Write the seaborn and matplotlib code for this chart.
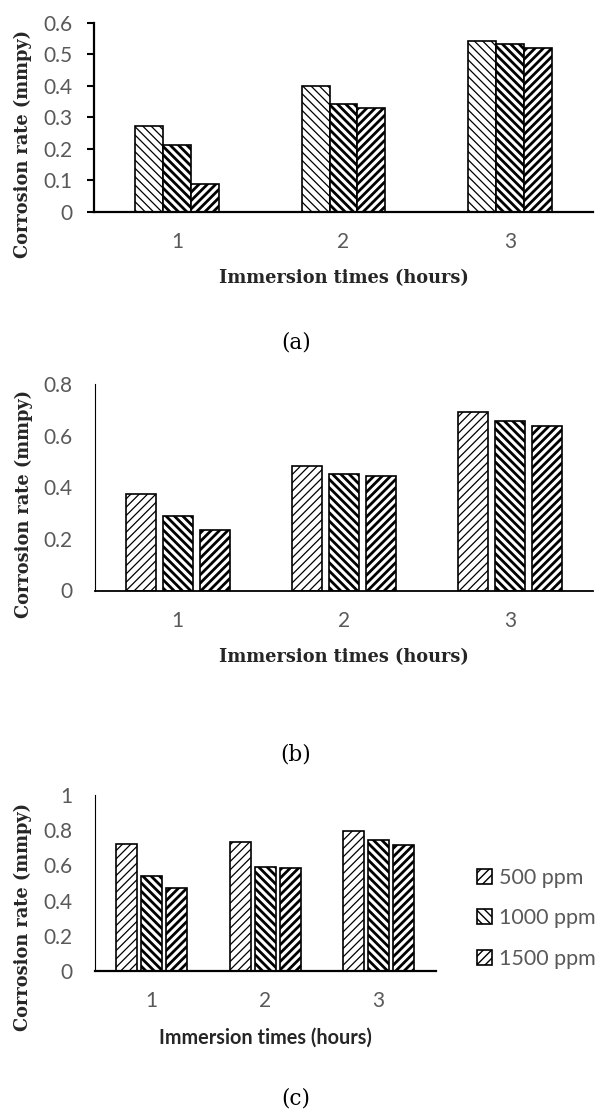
import numpy as np
import pandas as pd
import matplotlib
matplotlib.use("Agg")
import matplotlib.pyplot as plt
import seaborn as sns

# ---------------- data ----------------
times = ["1", "2", "3"]
concentrations = ["500 ppm", "1000 ppm", "1500 ppm"]

rate_a_500 = [0.273, 0.398, 0.543]
rate_a_1000 = [0.212, 0.341, 0.531]
rate_a_1500 = [0.089, 0.328, 0.520]

rate_b_500 = [0.373, 0.483, 0.692]
rate_b_1000 = [0.287, 0.453, 0.658]
rate_b_1500 = [0.236, 0.443, 0.638]

rate_c_500 = [0.722, 0.735, 0.795]
rate_c_1000 = [0.538, 0.593, 0.744]
rate_c_1500 = [0.470, 0.585, 0.716]

yticks_a = [0, 0.1, 0.2, 0.3, 0.4, 0.5, 0.6]
ylabels_a = ["0", "0.1", "0.2", "0.3", "0.4", "0.5", "0.6"]
yticks_b = [0, 0.2, 0.4, 0.6, 0.8]
ylabels_b = ["0", "0.2", "0.4", "0.6", "0.8"]
yticks_c = [0, 0.2, 0.4, 0.6, 0.8, 1.0]
ylabels_c = ["0", "0.2", "0.4", "0.6", "0.8", "1"]

ylabel_text = "Corrosion rate (mmpy)"
xlabel_text = "Immersion times (hours)"
captions = ["(a)", "(b)", "(c)"]


def make_frame(s500, s1000, s1500):
    rows = []
    for conc, vals in zip(concentrations, [s500, s1000, s1500]):
        for t, v in zip(times, vals):
            rows.append({"time": t, "conc": conc, "rate": v})
    return pd.DataFrame(rows)


df_a = make_frame(rate_a_500, rate_a_1000, rate_a_1500)
df_b = make_frame(rate_b_500, rate_b_1000, rate_b_1500)
df_c = make_frame(rate_c_500, rate_c_1000, rate_c_1500)

# ---------------- style ----------------
sns.set_theme(style="white")
plt.rcParams["font.family"] = ["Lato", "DejaVu Sans"]
plt.rcParams["hatch.color"] = "black"

TICK_GRAY = "#595959"
SANS = ["Lato", "DejaVu Sans"]
SERIF = ["DejaVu Serif"]
TICK_FS = 15

W, H = 597, 1110
fig = plt.figure(figsize=(W / 100, H / 100), dpi=100)
fig.patch.set_facecolor("white")


def px_axes(left, right, top, bottom):
    return fig.add_axes([left / W, 1 - bottom / H, (right - left) / W, (bottom - top) / H])


def draw_panel(ax, df, width, gap, hatches, hatch_lws, ylim, yticks, ylabels):
    sns.barplot(data=df, x="time", y="rate", hue="conc", order=times,
                hue_order=concentrations, palette=["white"] * 3, saturation=1,
                edgecolor="black", linewidth=1.2, width=width, gap=gap,
                errorbar=None, legend=False, ax=ax)
    for cont, h, lw in zip(ax.containers, hatches, hatch_lws):
        for bar in cont:
            bar.set_hatch(h)
            if hasattr(bar, "set_hatch_linewidth"):
                bar.set_hatch_linewidth(lw)
    ax.set_ylim(*ylim)
    ax.set_yticks(yticks, ylabels)
    ax.set_xlim(-0.5, 2.5)
    sns.despine(ax=ax)
    ax.set_facecolor("white")
    ax.tick_params(axis="x", length=0, pad=14.5, labelsize=TICK_FS, labelcolor=TICK_GRAY)
    for lab in ax.get_xticklabels() + ax.get_yticklabels():
        lab.set_fontfamily(SANS)


DARK = "\\\\\\\\"
FWD = "////"

# ---- panel (a)
ax_a = px_axes(94, 593, 22.7, 211.7)
draw_panel(ax_a, df_a, 0.505, 0.0, [DARK, DARK, FWD], [0.9, 2.0, 2.0],
           (0, 0.6), yticks_a, ylabels_a)
ax_a.spines["left"].set_linewidth(1.6)
ax_a.spines["bottom"].set_linewidth(1.6)
ax_a.spines["left"].set_color("black")
ax_a.spines["bottom"].set_color("black")
ax_a.tick_params(axis="y", length=5, width=1.5, color="black", pad=10.5, labelsize=TICK_FS,
                 labelcolor=TICK_GRAY, left=True)
ax_a.set_ylabel(ylabel_text, fontsize=12.8, fontweight="bold", family=SERIF, va="center")
ax_a.yaxis.set_label_coords(-0.1417, 0.358)
ax_a.set_xlabel(xlabel_text, fontsize=12.8, fontweight="bold", family=SERIF, va="center")
ax_a.xaxis.set_label_coords(0.5, -0.351)

# ---- panel (b)
ax_b = px_axes(94.7, 593, 384, 590.5)
draw_panel(ax_b, df_b, 0.667, 0.19, [FWD, DARK, FWD], [0.9, 2.0, 2.0],
           (0, 0.8), yticks_b, ylabels_b)
ax_b.spines["left"].set_linewidth(0.8)
ax_b.spines["bottom"].set_linewidth(1.3)
ax_b.spines["left"].set_color("black")
ax_b.spines["bottom"].set_color("black")
ax_b.tick_params(axis="y", length=0, pad=16, labelsize=TICK_FS, labelcolor=TICK_GRAY)
ax_b.set_ylabel(ylabel_text, fontsize=12.8, fontweight="bold", family=SERIF, va="center")
ax_b.yaxis.set_label_coords(-0.143, 0.419)
ax_b.set_xlabel(xlabel_text, fontsize=12.8, fontweight="bold", family=SERIF, va="center")
ax_b.xaxis.set_label_coords(0.5, -0.322)

# ---- panel (c)
ax_c = px_axes(94.7, 435.5, 795, 971)
draw_panel(ax_c, df_c, 0.661, 0.16, [FWD, DARK, FWD], [0.9, 2.0, 2.0],
           (0, 1.0), yticks_c, ylabels_c)
ax_c.spines["left"].set_linewidth(0.8)
ax_c.spines["bottom"].set_linewidth(1.6)
ax_c.spines["left"].set_color("black")
ax_c.spines["bottom"].set_color("black")
ax_c.tick_params(axis="y", length=0, pad=16, labelsize=TICK_FS, labelcolor=TICK_GRAY)
ax_c.set_ylabel(ylabel_text, fontsize=12.8, fontweight="bold", family=SERIF, va="center")
ax_c.yaxis.set_label_coords(-0.2095, 0.31)
ax_c.set_xlabel(xlabel_text, fontsize=14.3, fontweight="bold", family=SANS, va="center")
ax_c.xaxis.set_label_coords(0.501, -0.377)

leg = fig.legend(handles=ax_c.containers, labels=concentrations, loc="upper left",
                 bbox_to_anchor=(477 / W, 1 - 868 / H), bbox_transform=fig.transFigure,
                 frameon=False, borderpad=0, borderaxespad=0, handlelength=0.7,
                 handleheight=0.7, handletextpad=0.3, labelspacing=0.95, fontsize=15.5,
                 labelcolor=TICK_GRAY)

# captions
for cap, ypx in zip(captions, [342, 755, 1099]):
    fig.text(296 / W, 1 - ypx / H, cap, ha="center", va="center", fontsize=15.5,
             family=SERIF, color="black")

fig.savefig("out.png", dpi=100, facecolor="white")
